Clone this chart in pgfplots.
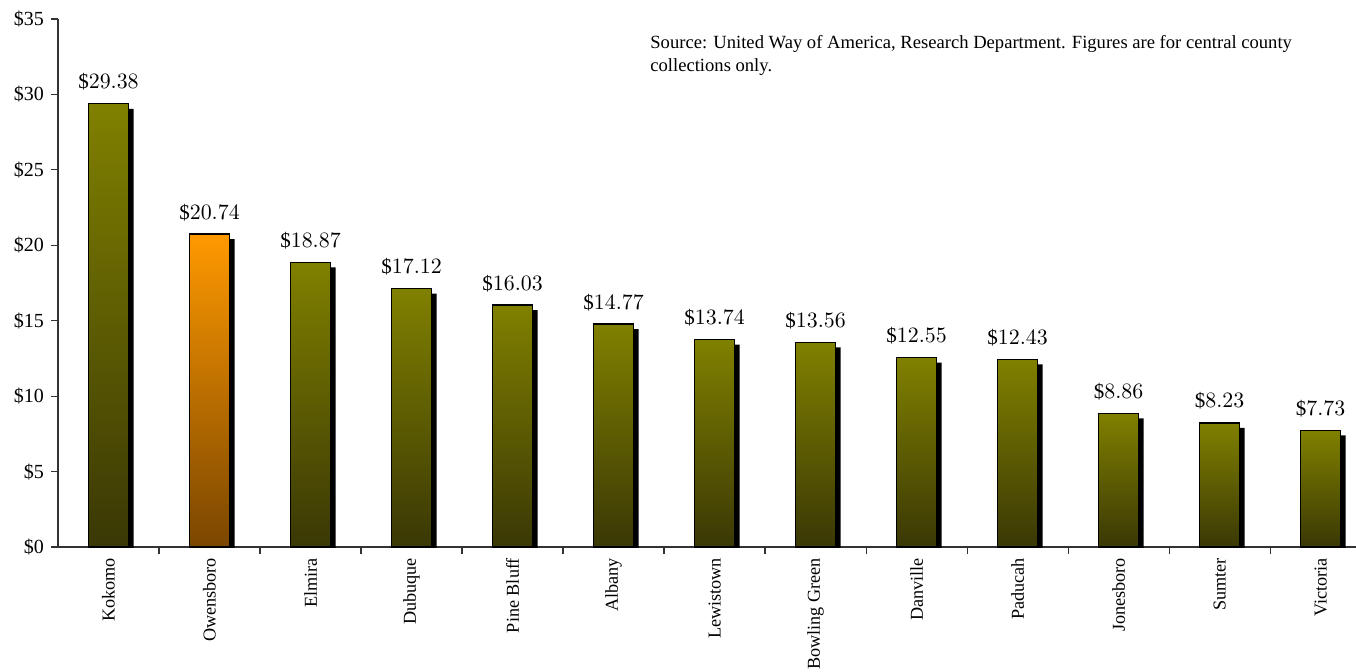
\documentclass[border=0pt]{standalone}
\usepackage{fontspec}
\setmainfont{Liberation Serif}
\usepackage{pgfplots}
\pgfplotsset{compat=1.18}
\definecolor{olivetop}{RGB}{128,128,0}
\definecolor{olivebot}{RGB}{58,56,5}
\definecolor{orangetop}{RGB}{255,153,0}
\definecolor{orangebot}{RGB}{122,70,0}
\begin{document}
\begin{tikzpicture}
\clip (-29pt,-62pt) rectangle (649pt,273.5pt);
\begin{axis}[
  at={(0,0)}, anchor=south west,
  scale only axis, width=649pt, height=264pt,
  xmin=-0.5, xmax=12.35, ymin=0, ymax=35,
  axis x line*=bottom, axis y line*=left,
  axis line style={-, black!80, line width=0.6pt},
  ybar, bar width=20pt,
  ytick={0,5,...,35},
  yticklabels={\$0,\$5,\$10,\$15,\$20,\$25,\$30,\$35},
  xtick={0.5,1.5,...,11.5},
  xticklabels={},
  extra x ticks={0,1,...,12},
  extra x tick labels={Kokomo,Owensboro,Elmira,Dubuque,Pine Bluff,Albany,Lewistown,Bowling Green,Danville,Paducah,Jonesboro,Sumter,Victoria},
  extra x tick style={major tick length=0pt},
  tick align=outside, major tick length=3.5pt,
  tick style={black!80, line width=0.6pt},
  yticklabel style={font=\fontsize{10}{11}\selectfont},
  xticklabel style={rotate=90, anchor=east, xshift=-2pt, font=\fontsize{9.1}{11}\selectfont},
  every node near coord/.append style={font=\fontsize{10.5}{12}\selectfont, anchor=base, yshift=7.5pt, color=black},
  olivebar/.style={bar shift=0pt, draw=black, line width=0.7pt, top color=olivetop, bottom color=olivebot,
    nodes near coords={\$\pgfmathprintnumber[fixed,fixed zerofill,precision=2]{\pgfplotspointmeta}}},
  orangebar/.style={bar shift=0pt, draw=black, line width=0.7pt, top color=orangetop, bottom color=orangebot,
    nodes near coords={\$\pgfmathprintnumber[fixed,fixed zerofill,precision=2]{\pgfplotspointmeta}}},
]
% shadows
\addplot[bar shift=2.5pt, yshift=-2.5pt, fill=black, draw=none] coordinates {
  (0,29.38) (1,20.74) (2,18.87) (3,17.12) (4,16.03) (5,14.77) (6,13.74)
  (7,13.56) (8,12.55) (9,12.43) (10,8.86) (11,8.23) (12,7.73)};
% bars (one plot per bar so that each bar gets its own gradient)
\addplot[olivebar] coordinates {(0,29.38)};
\addplot[orangebar] coordinates {(1,20.74)};
\addplot[olivebar] coordinates {(2,18.87)};
\addplot[olivebar] coordinates {(3,17.12)};
\addplot[olivebar] coordinates {(4,16.03)};
\addplot[olivebar] coordinates {(5,14.77)};
\addplot[olivebar] coordinates {(6,13.74)};
\addplot[olivebar] coordinates {(7,13.56)};
\addplot[olivebar] coordinates {(8,12.55)};
\addplot[olivebar] coordinates {(9,12.43)};
\addplot[olivebar] coordinates {(10,8.86)};
\addplot[olivebar] coordinates {(11,8.23)};
\addplot[olivebar] coordinates {(12,7.73)};
\end{axis}
\node[anchor=north west, align=left, inner sep=0pt, font=\fontsize{9.3}{11.5}\selectfont] at (296pt,256pt)
  {Source: United Way of America, Research Department. Figures are for central county\\collections only.};
\end{tikzpicture}
\end{document}
